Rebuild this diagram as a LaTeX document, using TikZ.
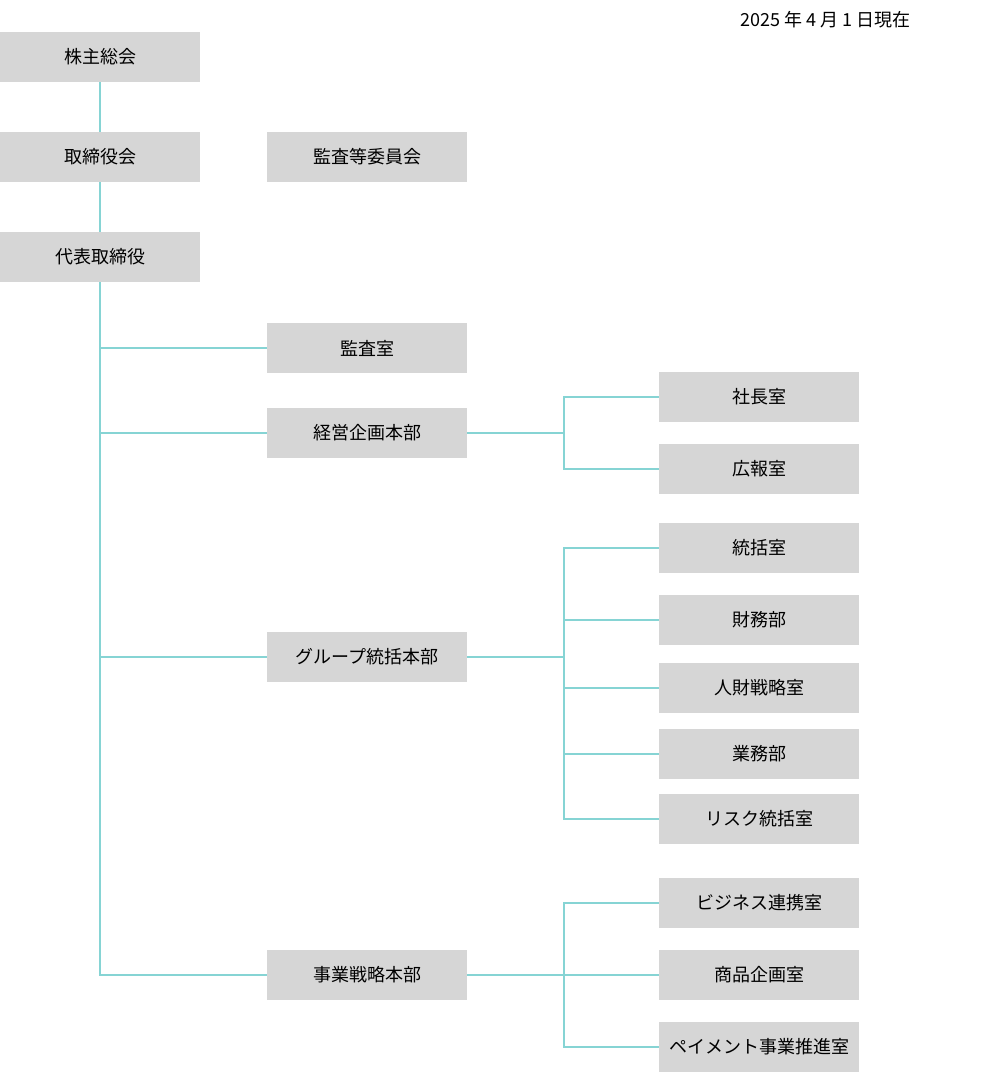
\documentclass[tikz,border=0pt]{standalone}
\usepackage{fontspec}
\setmainfont{Noto Sans CJK JP}
\usepackage{xcolor}
\usepackage{tikz}
\usetikzlibrary{positioning}

\definecolor{boxgray}{HTML}{D6D6D6}
\definecolor{linkteal}{HTML}{86D4D4}

\begin{document}
\begin{tikzpicture}[
  x=1pt,y=-1pt,
  font=\fontsize{18}{22}\selectfont,
  box/.style={fill=boxgray,minimum width=200pt,minimum height=50pt,inner sep=0pt,align=center},
  link/.style={draw=linkteal,line width=1.3pt}
]
\useasboundingbox (0,0) rectangle (1000,1072);
\node[anchor=east] (date) at (914,20) {2025 年 4 月 1 日現在};
% left column
\node[box] (kabu) at (100,57) {株主総会};
\node[box] (tori) at (100,157) {取締役会};
\node[box] (dai) at (100,257) {代表取締役};
\node[box] (iin) at (367,157) {監査等委員会};
% middle column
\node[box] (kansa) at (367,348) {監査室};
\node[box] (keiei) at (367,433) {経営企画本部};
\node[box] (group) at (367,657) {グループ統括本部};
\node[box] (jigyo) at (367,975) {事業戦略本部};
% right column
\node[box] (shacho) at (759,397) {社長室};
\node[box] (koho) at (759,469) {広報室};
\node[box] (tokatsu) at (759,548) {統括室};
\node[box] (zaimu) at (759,620) {財務部};
\node[box] (jinzai) at (759,688) {人財戦略室};
\node[box] (gyomu) at (759,754) {業務部};
\node[box] (risk) at (759,819) {リスク統括室};
\node[box] (biz) at (759,903) {ビジネス連携室};
\node[box] (shohin) at (759,975) {商品企画室};
\node[box] (pay) at (759,1047) {ペイメント事業推進室};
\coordinate (j1) at (564,433);
\coordinate (j2) at (564,657);
\coordinate (j3) at (564,975);
\draw[link] (kabu) -- (tori);
\draw[link] (tori) -- (dai);
\draw[link] (dai.south) |- (kansa.west);
\draw[link] (dai.south) |- (keiei.west);
\draw[link] (dai.south) |- (group.west);
\draw[link] (dai.south) |- (jigyo.west);
\draw[link] (keiei) -- (j1);
\draw[link] (j1) |- (shacho);
\draw[link] (j1) |- (koho);
\draw[link] (group) -- (j2);
\draw[link] (j2) |- (tokatsu);
\draw[link] (j2) |- (zaimu);
\draw[link] (j2) |- (jinzai);
\draw[link] (j2) |- (gyomu);
\draw[link] (j2) |- (risk);
\draw[link] (jigyo) -- (shohin);
\draw[link] (j3) |- (biz);
\draw[link] (j3) |- (pay);
\end{tikzpicture}
\end{document}
